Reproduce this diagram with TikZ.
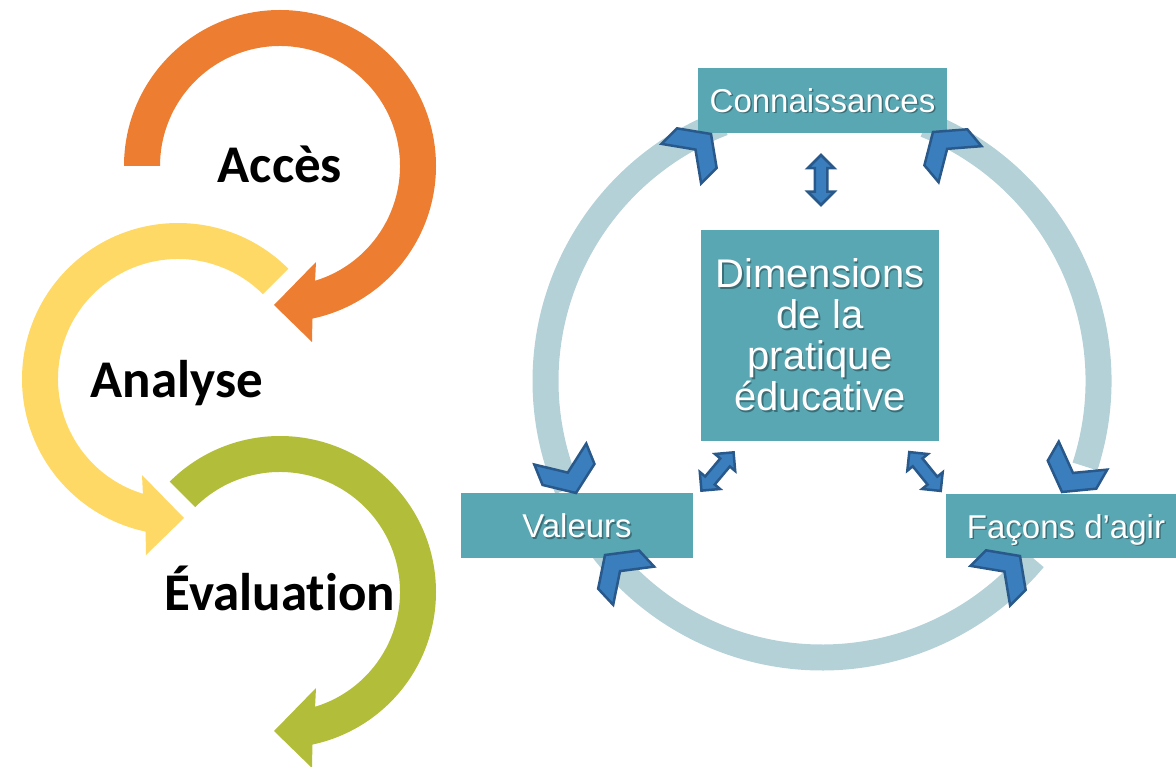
\documentclass[tikz,border=0pt]{standalone}
\usepackage{fontspec}
\setmainfont{Liberation Sans}
\newfontfamily\calib[Ligatures=NoCommon]{Carlito}
\usetikzlibrary{shapes.arrows,calc}
\definecolor{arOrange}{HTML}{ED7D31}
\definecolor{arYellow}{HTML}{FFD966}
\definecolor{arGreen}{HTML}{B2BE3A}
\definecolor{ringc}{HTML}{B4D1D8}
\definecolor{tealc}{HTML}{59A7B3}
\definecolor{chevfill}{HTML}{3A7EBD}
\definecolor{chevdark}{HTML}{28598A}
\definecolor{shadowc}{HTML}{3A6F78}
\newcommand\shd[1]{\leavevmode\rlap{\kern1.5pt\raisebox{-1.5pt}{\textcolor{shadowc}{#1}}}#1}
\tikzset{
  ringarc/.style={draw=ringc, line width=26pt},
  tealbox/.style={fill=tealc, text=white, inner sep=0pt},
  oneline/.style={font=\fontsize{33}{38}\selectfont, text height=24pt, text depth=0pt},
  chevstyle/.style={fill=chevfill, draw=chevdark, line width=2.5pt, line join=miter},
  dblarrow/.style={shape=double arrow, fill=chevfill, draw=chevdark, line width=2.5pt,
    inner sep=5pt, double arrow head extend=7pt, minimum height=50pt},
  steplabel/.style={font=\calib\bfseries\fontsize{53}{60}\selectfont, text=black, anchor=base, inner sep=0pt},
  chev/.pic={\path[chevstyle] (0,0) -- (-20,28) -- (-42,28) -- (-22,0)
     -- (-42,-28) -- (-20,-28) -- cycle;}
}
\begin{document}
\begin{tikzpicture}[x=1pt,y=1pt]
\useasboundingbox (0,0) rectangle (1176,-767);
% ---------------- left: cycle of three arrows
\coordinate (co) at (280,-166);
\coordinate (cy) at (178,-379);
\coordinate (cg) at (280,-592);
\fill[arYellow] ($(cy)+(45:156)$) arc[start angle=45, end angle=258, radius=156]
  -- (146,-555) -- (184,-518) -- (142,-475)
  -- ($(cy)+(253:120)$) arc[start angle=253, end angle=45, radius=120] -- cycle;
\fill[arOrange] ($(co)+(180:156)$) arc[start angle=180, end angle=-78, radius=156]
  -- (312,-342) -- (274,-305) -- (316,-262)
  -- ($(co)+(-73:120)$) arc[start angle=-73, end angle=180, radius=120] -- cycle;
\fill[arGreen] ($(cg)+(135:156)$) arc[start angle=135, end angle=-78, radius=156]
  -- (312,-768) -- (274,-731) -- (316,-688)
  -- ($(cg)+(-73:120)$) arc[start angle=-73, end angle=135, radius=120] -- cycle;
\node[steplabel] (acces) at (280,-183) {Accès};
\node[steplabel] (analyse) at (177,-398) {Analyse};
\node[steplabel] (evaluation) at (280,-610) {Évaluation};
% ---------------- right: ring of dimensions
\coordinate (rc) at (822,-381);
\draw[ringarc] ($(rc)+(111:276.5)$) arc[start angle=111, end angle=203, radius=276.5];
\draw[ringarc] ($(rc)+(217:276.5)$) arc[start angle=217, end angle=320, radius=276.5];
\draw[ringarc] ($(rc)+(68:276.5)$) arc[start angle=68, end angle=-18, radius=276.5];
\node[tealbox, oneline, minimum width=249pt, minimum height=65pt] (conn) at (822.5,-100.5) {\shd{Connaissances}};
\node[tealbox, oneline, minimum width=232pt, minimum height=65pt] (val) at (577,-525.5) {\shd{Valeurs}};
\node[tealbox, oneline, minimum width=240pt, minimum height=64pt] (fac) at (1066,-526) {\shd{Façons d’agir}};
\node[tealbox, align=center, font=\fontsize{40}{41}\selectfont, minimum width=238pt, minimum height=211pt] (dim) at (820,-335.5)
  {\shd{Dimensions}\\\shd{de la}\\\shd{pratique}\\\shd{éducative}};
% chevron heads of the ring arcs
\path (711,-134) pic[rotate=45]{chev};
\path (576,-493) pic[rotate=-68]{chev};
\path (933,-132) pic[rotate=130]{chev};
\path (1062,-492) pic[rotate=-120]{chev};
\path (605,-555) pic[rotate=133]{chev};
\path (1020,-556) pic[rotate=45]{chev};
% double arrows between the centre and the three dimensions
\node[dblarrow, rotate=90] (dconn) at (821,-180) {};
\node[dblarrow, rotate=50] (dval) at (717.5,-471.5) {};
\node[dblarrow, rotate=-51] (dfac) at (925,-471.5) {};
\end{tikzpicture}
\end{document}
